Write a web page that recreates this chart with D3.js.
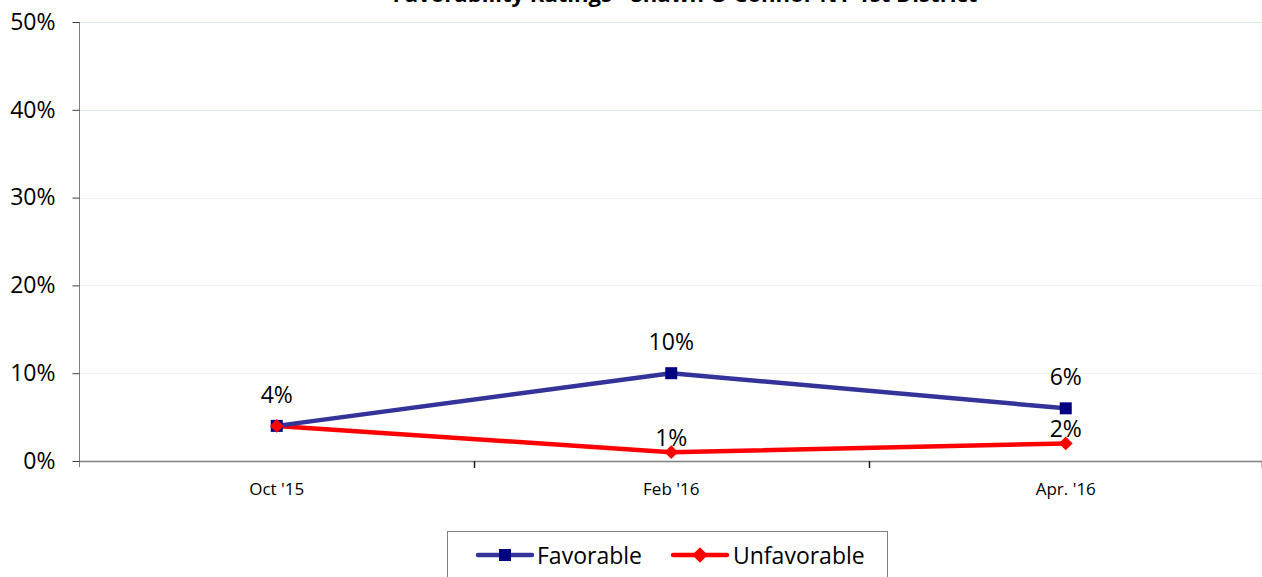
<!DOCTYPE html>
<html><head><meta charset="utf-8">
<script src="https://cdn.jsdelivr.net/npm/d3@7"></script>
<style>html,body{margin:0;padding:0;background:#fff;}svg{display:block;}</style>
</head><body>
<svg id="c" width="1262" height="577"></svg>
<script>
const categories = ["Oct '15", "Feb '16", "Apr. '16"];
const favorable = [4, 10, 6];
const unfavorable = [4, 1, 2];
const favorableLabels = ["4%", "10%", "6%"];
const unfavorableLabels = [null, "1%", "2%"];
const yTicks = [0, 10, 20, 30, 40, 50];
const seriesNames = ["Favorable", "Unfavorable"];
const title = "Favorability Ratings - Shawn O'Connor NY 1st District";

(function () {
const svg = d3.select("#c");
const font = "'Open Sans', Lato, sans-serif";
const pL = 79.5, pR = 1263, pT = 22, pB = 461;
const x = d3.scaleBand().domain(categories).range([pL, pR]);
const y = d3.scaleLinear().domain([0, 50]).range([pB, pT]);
const favColor = "#333399", unfavColor = "#ff0000";

const t = svg.append("text").attr("x", 685).attr("y", 2).attr("text-anchor", "middle")
  .attr("font-family", font).attr("font-weight", "bold").attr("font-size", 20).text(title);
const tw = t.node().getComputedTextLength();
if (tw > 0) t.attr("font-size", 20 * 585 / tw);

// gridlines
svg.append("g").selectAll("line").data(yTicks.filter(d => d > 0)).join("line")
  .attr("x1", pL).attr("x2", pR).attr("y1", d => Math.round(y(d)) + 0.5).attr("y2", d => Math.round(y(d)) + 0.5)
  .attr("stroke", d => d >= 40 ? "#dce4f0" : "#eef0f4").attr("stroke-width", 1);

// y axis
const ya = svg.append("g").attr("transform", `translate(${pL},0)`)
  .call(d3.axisLeft(y).tickValues(yTicks).tickFormat(d => d + "%").tickSize(7).tickPadding(17));
ya.select(".domain").attr("stroke", "#808080").attr("d", `M0,${pT}V${pB + 6}`);
ya.selectAll(".tick line").attr("stroke", "#404040");
ya.selectAll(".tick text").attr("font-family", font).attr("font-size", 23).attr("fill", "#000");

// x axis
const xa = svg.append("g").attr("transform", `translate(0,${pB})`)
  .call(d3.axisBottom(x).tickSize(0).tickPadding(22));
xa.select(".domain").attr("stroke", "#808080").attr("stroke-width", 1.5);
xa.selectAll(".tick text").attr("font-family", font).attr("font-size", 17).attr("fill", "#000");
const bounds = categories.slice(1).map(c => x(c)).concat([pR - 1.5]);
xa.append("g").selectAll("line").data(bounds).join("line")
  .attr("x1", d => Math.round(d) + 0.5).attr("x2", d => Math.round(d) + 0.5).attr("y1", 0).attr("y2", 7)
  .attr("stroke", "#202020").attr("stroke-width", 1.5);

const cx = c => x(c) + x.bandwidth() / 2;
const line = d3.line().x((d, i) => cx(categories[i])).y(d => y(d));

svg.append("path").datum(unfavorable).attr("d", line).attr("fill", "none")
  .attr("stroke", unfavColor).attr("stroke-width", 4.5).attr("stroke-linejoin", "round");
svg.append("path").datum(favorable).attr("d", line).attr("fill", "none")
  .attr("stroke", favColor).attr("stroke-width", 4.5).attr("stroke-linejoin", "round");

const sq = d3.symbol().type(d3.symbolSquare).size(144);
const dm = d3.symbol().type(d3.symbolSquare).size(95);
const dmL = d3.symbol().type(d3.symbolSquare).size(120);
svg.append("g").selectAll("path").data(favorable).join("path")
  .attr("d", sq).attr("fill", "#000080")
  .attr("transform", (d, i) => `translate(${cx(categories[i])},${y(d)})`);
svg.append("g").selectAll("path").data(unfavorable).join("path")
  .attr("d", dm).attr("fill", unfavColor)
  .attr("transform", (d, i) => `translate(${cx(categories[i])},${y(d)}) rotate(45)`);

// labels
svg.append("g").selectAll("text").data(favorable).join("text")
  .attr("x", (d, i) => cx(categories[i])).attr("y", d => y(d) - 23)
  .attr("text-anchor", "middle").attr("font-family", font).attr("font-size", 23)
  .text((d, i) => favorableLabels[i]);
svg.append("g").selectAll("text").data(unfavorable).join("text")
  .attr("x", (d, i) => cx(categories[i])).attr("y", d => y(d) - 6)
  .attr("text-anchor", "middle").attr("font-family", font).attr("font-size", 23)
  .text((d, i) => unfavorableLabels[i]);

// legend
const lg = svg.append("g");
lg.append("rect").attr("x", 447.5).attr("y", 531.5).attr("width", 440).attr("height", 60)
  .attr("fill", "#fff").attr("stroke", "#808080");
const items = [
  {name: seriesNames[0], color: favColor, mark: "#000080", sym: sq, rot: 0, x0: 478, tx: 537},
  {name: seriesNames[1], color: unfavColor, mark: unfavColor, sym: dmL, rot: 45, x0: 673, tx: 733}
];
items.forEach(it => {
  lg.append("line").attr("x1", it.x0).attr("x2", it.x0 + 54).attr("y1", 555).attr("y2", 555)
    .attr("stroke", it.color).attr("stroke-width", 4.5).attr("stroke-linecap", "round");
  lg.append("path").attr("d", it.sym).attr("fill", it.mark)
    .attr("transform", `translate(${it.x0 + 27},555) rotate(${it.rot})`);
  lg.append("text").attr("x", it.tx).attr("y", 564).attr("font-family", font).attr("font-size", 23).text(it.name);
});
})();
</script>
</body></html>
